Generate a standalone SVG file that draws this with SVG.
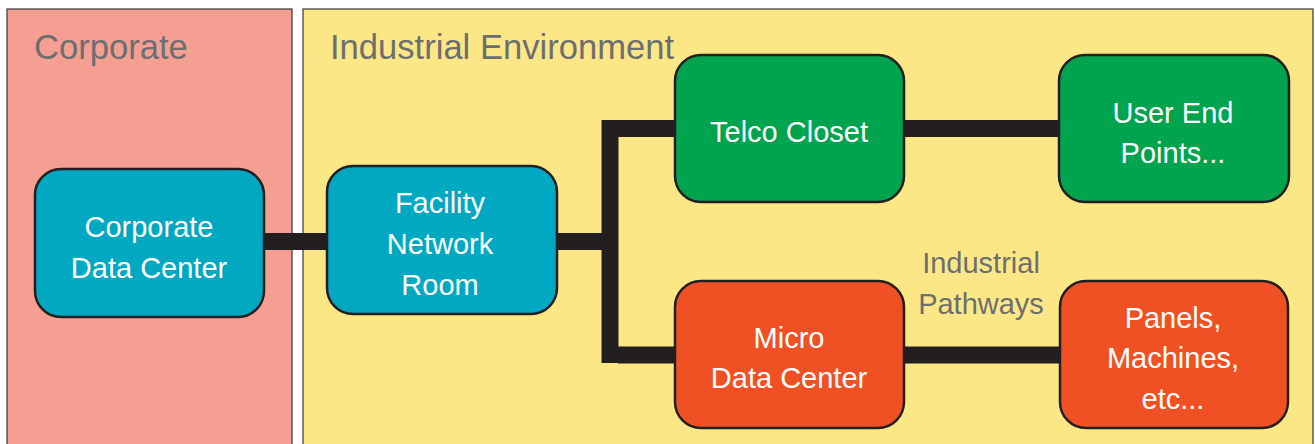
<svg xmlns="http://www.w3.org/2000/svg" width="1315" height="444" viewBox="0 0 1315 444">
<style>
.zone{stroke:#3a3536;stroke-width:1.2}
.hdr{font-family:"Liberation Sans",Arial,sans-serif;font-size:34.6px;fill:#6d6e70}
.node rect{stroke:#231f20;stroke-width:2.5}
.node text{font-family:"Liberation Sans",Arial,sans-serif;font-size:29px;fill:#ffffff;text-anchor:middle}
.teal{fill:#00a8c2}
.green{fill:#00a34e}
.orange{fill:#f05124}
.lbl{font-family:"Liberation Sans",Arial,sans-serif;font-size:29px;fill:#6d6e70;text-anchor:middle}
#connectors path{fill:none;stroke:#231f20;stroke-width:17}
</style>
<rect width="1315" height="444" fill="#ffffff"/>
<g id="zone-corporate">
<rect class="zone" x="7" y="9" width="285" height="445" fill="#f59f92"/>
<text class="hdr" x="34" y="59">Corporate</text>
</g>
<g id="zone-industrial">
<rect class="zone" x="303" y="9" width="1010" height="445" fill="#fce787"/>
<text class="hdr" x="330" y="59">Industrial Environment</text>
</g>
<g id="connectors">
<path d="M263 241.5H328"/>
<path d="M556 241.5H602"/>
<path d="M610 120V363"/>
<path d="M618 128.5H676"/>
<path d="M618 355H676"/>
<path d="M903 128.5H1060"/>
<path d="M903 355H1061"/>
</g>
<g id="corporate-data-center" class="node">
<rect class="teal" x="35" y="169" width="229" height="148" rx="26"/>
<text x="149" y="237">Corporate</text>
<text x="149" y="278">Data Center</text>
</g>
<g id="facility-network-room" class="node">
<rect class="teal" x="327" y="166" width="230" height="148" rx="26"/>
<text x="440" y="213">Facility</text>
<text x="440" y="254">Network</text>
<text x="440" y="295">Room</text>
</g>
<g id="telco-closet" class="node">
<rect class="green" x="675" y="55" width="229" height="147" rx="26"/>
<text x="789" y="142">Telco Closet</text>
</g>
<g id="user-end-points" class="node">
<rect class="green" x="1059" y="55" width="230" height="147" rx="26"/>
<text x="1173" y="123">User End</text>
<text x="1173" y="163">Points...</text>
</g>
<g id="micro-data-center" class="node">
<rect class="orange" x="675" y="281" width="229" height="147" rx="26"/>
<text x="789" y="348">Micro</text>
<text x="789" y="388">Data Center</text>
</g>
<g id="panels-machines" class="node">
<rect class="orange" x="1060" y="281" width="228" height="147" rx="26"/>
<text x="1173" y="328">Panels,</text>
<text x="1173" y="368">Machines,</text>
<text x="1173" y="409">etc...</text>
</g>
<g id="industrial-pathways-label">
<text class="lbl" x="981" y="273">Industrial</text>
<text class="lbl" x="981" y="314">Pathways</text>
</g>
</svg>
